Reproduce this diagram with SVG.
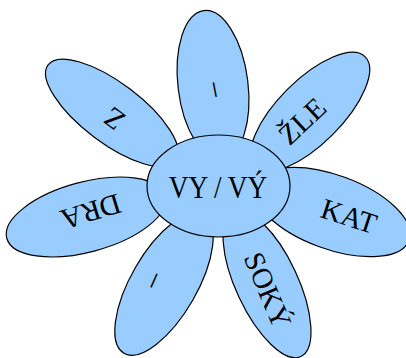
<svg xmlns="http://www.w3.org/2000/svg" width="406" height="358" viewBox="0 0 406 358">
<style>
.p{fill:#99ccff;stroke:#000;stroke-width:1.2}
.t{font-family:"Liberation Serif","Times New Roman",serif;font-size:29px;fill:#000;text-anchor:middle;dominant-baseline:central}
</style>
<rect width="406" height="358" fill="#fff"/>
<g id="petal-top"><ellipse class="p" cx="0" cy="0" rx="35" ry="75" transform="translate(213,85) rotate(-7)"/><text class="t" transform="translate(218,89) rotate(79)">–</text></g>
<g id="petal-zle"><ellipse class="p" cx="0" cy="0" rx="78" ry="32" transform="translate(310,112) rotate(-45)"/><text class="t" transform="translate(302,121) rotate(-43)">ŽLE</text></g>
<g id="petal-kat"><ellipse class="p" cx="0" cy="0" rx="82" ry="37" transform="translate(332,212) rotate(20)"/><text class="t" transform="translate(349,216) rotate(18)">KAT</text></g>
<g id="petal-soky"><ellipse class="p" cx="0" cy="0" rx="80" ry="31" transform="translate(267,284) rotate(65)"/><text class="t" transform="translate(268,290) rotate(67)">SOKÝ</text></g>
<g id="petal-lowleft"><ellipse class="p" cx="0" cy="0" rx="80" ry="33" transform="translate(164,284) rotate(-60)"/><text class="t" transform="translate(157,282) rotate(114)">–</text></g>
<g id="petal-dra"><ellipse class="p" cx="0" cy="0" rx="82" ry="35" transform="translate(86,217) rotate(-15)"/><text class="t" transform="translate(91,212) rotate(163)">DRA</text></g>
<g id="petal-z"><ellipse class="p" cx="0" cy="0" rx="80" ry="30" transform="translate(112,113) rotate(37)"/><text class="t" transform="translate(114,119) rotate(-143)">Z</text></g>
<g id="center"><ellipse class="p" cx="218.5" cy="186" rx="71.5" ry="51"/><text class="t" style="font-size:31px;dominant-baseline:auto" transform="translate(218,198) scale(0.88,1)">VY / VÝ</text></g>
</svg>
